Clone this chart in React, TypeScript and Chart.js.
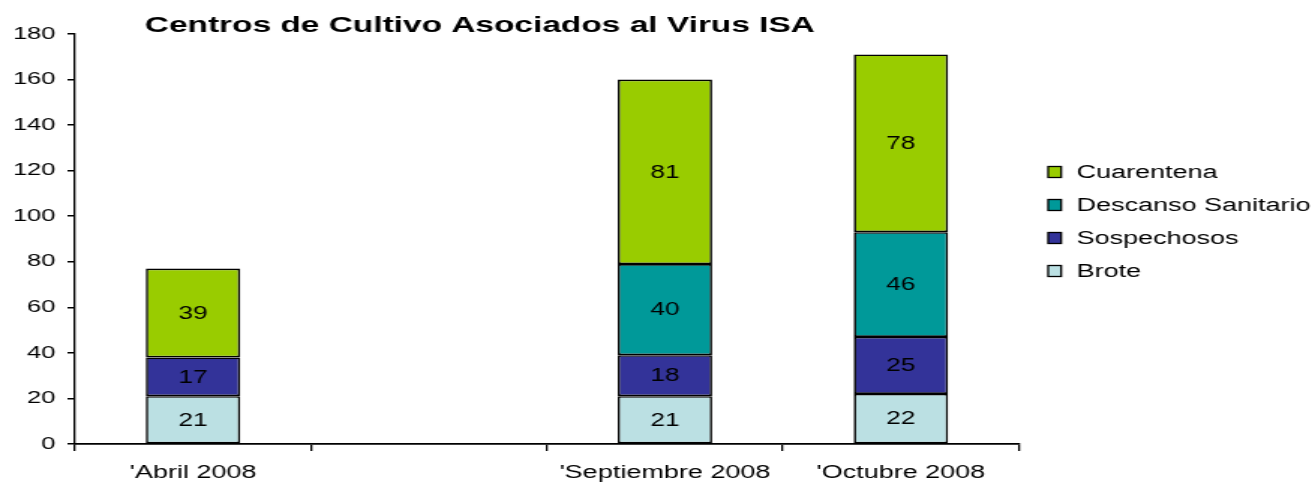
import React, { useEffect, useRef } from "react";
import { Chart, registerables } from "chart.js";

Chart.register(...registerables);

const TITLE = "Centros de Cultivo Asociados al Virus ISA";
const categories = ["'Abril 2008", "", "'Septiembre 2008", "'Octubre 2008"];
const brote = [21, null, 21, 22];
const sospechosos = [17, null, 18, 25];
const descanso = [null, null, 40, 46];
const cuarentena = [39, null, 81, 78];
const yTicks = { min: 0, max: 180, step: 20 };

const FONT = "'Liberation Sans', Arial, Helvetica, sans-serif";
const W_CSS = 1315;
const H = 483;
const W = 877; // internal width; the picture is stretched horizontally

const dataLabels = {
  id: "dataLabels",
  afterDatasetsDraw(chart: any) {
    const ctx = chart.ctx;
    ctx.save();
    ctx.font = `17.5px ${FONT}`;
    ctx.fillStyle = "#000";
    ctx.textAlign = "center";
    ctx.textBaseline = "middle";
    chart.data.datasets.forEach((ds: any, i: number) => {
      const meta = chart.getDatasetMeta(i);
      meta.data.forEach((bar: any, j: number) => {
        const v = ds.data[j];
        if (v == null) return;
        const p = bar.getProps(["x", "y", "base"], true);
        ctx.fillText(String(v), p.x, (p.y + p.base) / 2 + 1);
      });
    });
    ctx.restore();
  },
};

const titlePlugin = {
  id: "customTitle",
  afterDraw(chart: any) {
    const ctx = chart.ctx;
    ctx.save();
    ctx.font = `bold 22.3px ${FONT}`;
    ctx.fillStyle = "#000";
    ctx.textAlign = "center";
    ctx.textBaseline = "middle";
    ctx.fillText(TITLE, 320, 26);
    ctx.restore();
  },
};

const legendPlugin = {
  id: "customLegend",
  afterDraw(chart: any) {
    const ctx = chart.ctx;
    const area = chart.chartArea;
    const dsList = chart.data.datasets.slice().reverse();
    const boxX = area.right + 19.5;
    const textX = area.right + 38.5;
    ctx.save();
    ctx.font = `18px ${FONT}`;
    ctx.textAlign = "left";
    ctx.textBaseline = "middle";
    dsList.forEach((ds: any, i: number) => {
      const cy = 172 + i * 33;
      ctx.fillStyle = ds.backgroundColor;
      ctx.fillRect(boxX, cy - 5.5, 8.7, 11);
      ctx.strokeStyle = "#000";
      ctx.lineWidth = 1.3;
      ctx.strokeRect(boxX, cy - 5.5, 8.7, 11);
      ctx.fillStyle = "#000";
      ctx.fillText(ds.label, textX, cy + 1);
    });
    ctx.restore();
  },
};

export default function App() {
  const ref = useRef<HTMLCanvasElement | null>(null);
  useEffect(() => {
    if (!ref.current) return;
    const mk = (label: string, data: any[], color: string) => ({
      label,
      data,
      backgroundColor: color,
      borderColor: "#000",
      borderWidth: 1.6,
      borderSkipped: false,
      categoryPercentage: 0.4,
      barPercentage: 1.0,
    });
    const chart = new Chart(ref.current, {
      type: "bar",
      data: {
        labels: categories,
        datasets: [
          mk("Brote", brote, "#BBE0E3"),
          mk("Sospechosos", sospechosos, "#333399"),
          mk("Descanso Sanitario", descanso, "#009999"),
          mk("Cuarentena", cuarentena, "#99CC00"),
        ],
      },
      options: {
        responsive: false,
        animation: false,
        devicePixelRatio: 1,
        layout: { padding: { top: 34, left: 0, right: 197.5, bottom: 0 } },
        plugins: {
          title: { display: false },
          tooltip: { enabled: false },
          legend: { display: false },
        },
        scales: {
          x: {
            stacked: true,
            offset: true,
            grid: {
              display: true,
              offset: true,
              drawOnChartArea: false,
              drawTicks: true,
              tickLength: 7,
              color: "#000",
              lineWidth: 1.3,
            },
            border: { display: true, color: "#000", width: 1.8 },
            ticks: {
              color: "#000",
              font: { family: FONT, size: 18 },
              padding: 11,
              maxRotation: 0,
              autoSkip: false,
            },
            afterFit: (s: any) => {
              s.height = 39;
            },
          },
          y: {
            stacked: true,
            min: yTicks.min,
            max: yTicks.max,
            grid: {
              display: true,
              drawOnChartArea: false,
              drawTicks: true,
              tickLength: 5,
              color: "#000",
              lineWidth: 1.5,
            },
            border: { display: true, color: "#000", width: 1.3 },
            ticks: {
              stepSize: yTicks.step,
              color: "#000",
              font: { family: FONT, size: 17 },
              padding: 8,
            },
            afterFit: (s: any) => {
              s.width = 50;
            },
          },
        },
      },
      plugins: [dataLabels, titlePlugin, legendPlugin],
    } as any);
    return () => chart.destroy();
  }, []);
  return (
    <div style={{ position: "absolute", left: 0, top: 0, width: W_CSS, height: H, background: "#fff" }}>
      <canvas
        ref={ref}
        width={W}
        height={H}
        style={{ width: `${W_CSS}px`, height: `${H}px`, display: "block" }}
      />
    </div>
  );
}
